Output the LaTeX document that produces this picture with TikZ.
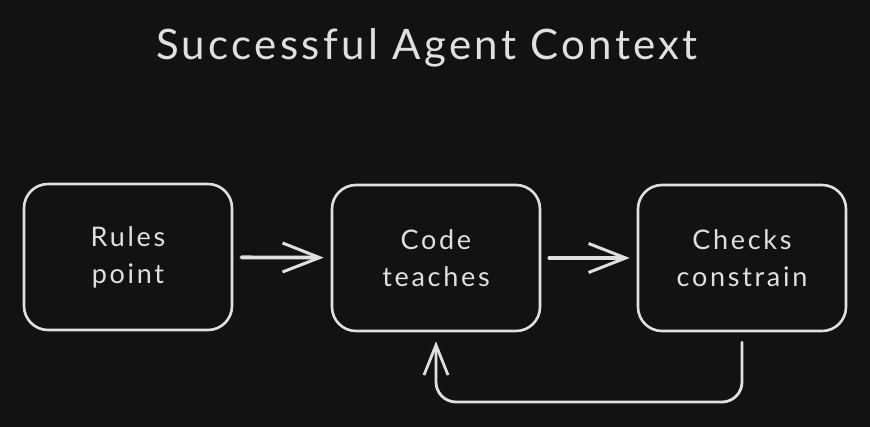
\documentclass[tikz,border=0pt]{standalone}
\usepackage{fontspec}
\setmainfont{Lato}
\usetikzlibrary{positioning, arrows.meta}
\definecolor{bgdark}{HTML}{121212}
\definecolor{inkgray}{HTML}{E0E0E0}
\tikzset{
TitleStyle/.style ={text=inkgray,
                    font=\fontsize{42}{48}\selectfont\addfontfeature{LetterSpace=8}},
BoxStyle/.style   ={draw=inkgray, line width=2.6pt, rounded corners=24pt,
                    minimum width=208pt, minimum height=146pt,
                    align=center, text=inkgray,
                    font=\fontsize{27}{37}\selectfont\addfontfeature{LetterSpace=10}},
ArrowStyle/.style ={draw=inkgray, line width=3.8pt, line cap=round,
                    -{Straight Barb[length=37pt, width=29pt, line width=3pt]}},
LoopStyle/.style  ={draw=inkgray, line width=2.8pt, line cap=round,
                    rounded corners=20pt,
                    -{Straight Barb[length=30pt, width=24pt, line width=2.8pt]}},
}
\begin{document}
\begin{tikzpicture}[x=1pt, y=-1pt]
\fill[bgdark] (0,0) rectangle (870,427);
\useasboundingbox (0,0) rectangle (870,427);

\node[TitleStyle] (title) at (427,48) {Successful Agent Context};

\begin{scope}  % boxes
\node[BoxStyle] (rules)  at (128,257) {Rules\\point};
\node[BoxStyle] (code)   at (436,258) {Code\\teaches};
\node[BoxStyle] (checks) at (742,258) {Checks\\constrain};
\end{scope}

\begin{scope}  % arrows
\draw[ArrowStyle, shorten <=8pt, shorten >=7pt] (rules) -- (code);
\draw[ArrowStyle, shorten <=8pt, shorten >=7pt] (code) -- (checks);
\draw[LoopStyle, shorten <=10pt, shorten >=9pt]
  (checks.south) -- (checks.south |- 0,402) -- (code.south |- 0,402) -- (code.south);
\end{scope}
\end{tikzpicture}
\end{document}
